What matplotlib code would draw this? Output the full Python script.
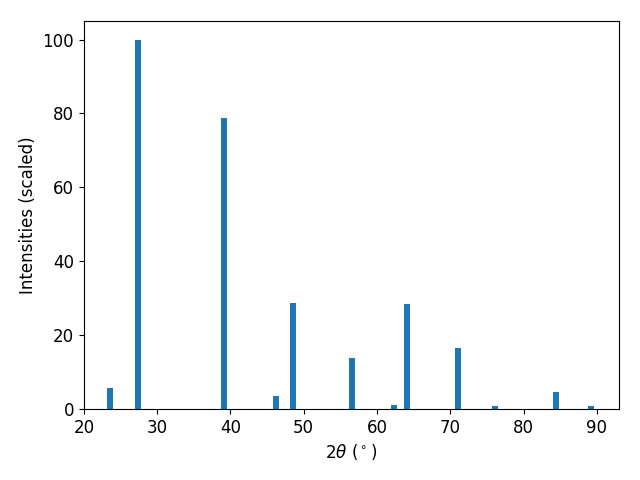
import matplotlib
matplotlib.use('Agg')
import matplotlib.pyplot as plt

# peak positions (2 theta, degrees) and scaled intensities
two_theta = [23.55, 27.37, 39.1, 46.2, 48.5, 56.56, 62.3, 64.07, 71.0, 76.07, 84.4, 89.2]
intensity = [5.7, 100.0, 78.9, 3.5, 28.7, 13.8, 1.1, 28.5, 16.5, 0.8, 4.6, 0.8]

plt.rcParams['font.size'] = 12

fig, ax = plt.subplots(figsize=(6.4, 4.8), dpi=100)
ax.bar(two_theta, intensity, width=0.8)
ax.set_xlim(20, 93)
ax.set_xlabel(r'$2\theta$ ($^\circ$)')
ax.set_ylabel('Intensities (scaled)')
fig.subplots_adjust(left=0.131, right=0.967, top=0.956, bottom=0.148)
fig.savefig('out.png')
